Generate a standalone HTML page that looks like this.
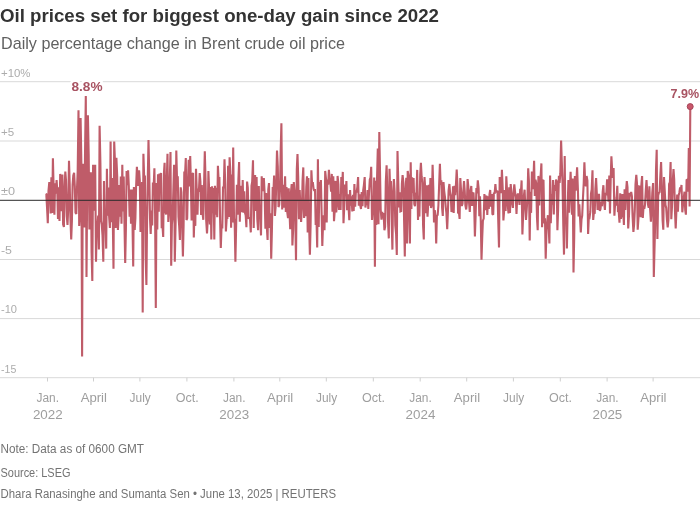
<!DOCTYPE html>
<html lang="en"><head><meta charset="utf-8"><title>Oil prices set for biggest one-day gain since 2022</title>
<style>
html,body{margin:0;padding:0;background:#fff;}
body{width:700px;height:519px;overflow:hidden;font-family:"Liberation Sans",sans-serif;}
svg{display:block;}
text{font-family:"Liberation Sans",sans-serif;}
.t{font-size:17.6px;font-weight:bold;fill:#333;}
.st{font-size:16.4px;fill:#606060;}
.yl{font-size:11.5px;fill:#acacac;}
.xl{font-size:12px;fill:#9e9e9e;text-anchor:middle;}
.ft{font-size:12px;fill:#737373;}
.an{font-size:13px;font-weight:bold;fill:#a85362;stroke:#fff;stroke-width:5px;paint-order:stroke;stroke-linejoin:round;}
</style></head><body>
<svg width="700" height="519" viewBox="0 0 700 519">
<rect width="700" height="519" fill="#fff"/>
<text class="t" x="0" y="21.7" textLength="439" lengthAdjust="spacingAndGlyphs">Oil prices set for biggest one-day gain since 2022</text>
<text class="st" x="1" y="49.3" textLength="344" lengthAdjust="spacingAndGlyphs">Daily percentage change in Brent crude oil price</text>
<line x1="0" x2="700" y1="81.7" y2="81.7" stroke="#d9d9d9" stroke-width="1"/>
<line x1="0" x2="700" y1="141.0" y2="141.0" stroke="#d9d9d9" stroke-width="1"/>
<line x1="0" x2="700" y1="259.5" y2="259.5" stroke="#d9d9d9" stroke-width="1"/>
<line x1="0" x2="700" y1="318.6" y2="318.6" stroke="#d9d9d9" stroke-width="1"/>
<line x1="0" x2="700" y1="377.7" y2="377.7" stroke="#d9d9d9" stroke-width="1"/>
<line x1="47.5" x2="47.5" y1="377.7" y2="381.5" stroke="#cfcfcf" stroke-width="1"/>
<line x1="93.5" x2="93.5" y1="377.7" y2="381.5" stroke="#cfcfcf" stroke-width="1"/>
<line x1="139.9" x2="139.9" y1="377.7" y2="381.5" stroke="#cfcfcf" stroke-width="1"/>
<line x1="186.9" x2="186.9" y1="377.7" y2="381.5" stroke="#cfcfcf" stroke-width="1"/>
<line x1="233.9" x2="233.9" y1="377.7" y2="381.5" stroke="#cfcfcf" stroke-width="1"/>
<line x1="279.8" x2="279.8" y1="377.7" y2="381.5" stroke="#cfcfcf" stroke-width="1"/>
<line x1="326.3" x2="326.3" y1="377.7" y2="381.5" stroke="#cfcfcf" stroke-width="1"/>
<line x1="373.3" x2="373.3" y1="377.7" y2="381.5" stroke="#cfcfcf" stroke-width="1"/>
<line x1="420.2" x2="420.2" y1="377.7" y2="381.5" stroke="#cfcfcf" stroke-width="1"/>
<line x1="466.7" x2="466.7" y1="377.7" y2="381.5" stroke="#cfcfcf" stroke-width="1"/>
<line x1="513.4" x2="513.4" y1="377.7" y2="381.5" stroke="#cfcfcf" stroke-width="1"/>
<line x1="560.3" x2="560.3" y1="377.7" y2="381.5" stroke="#cfcfcf" stroke-width="1"/>
<line x1="607.1" x2="607.1" y1="377.7" y2="381.5" stroke="#cfcfcf" stroke-width="1"/>
<line x1="653.1" x2="653.1" y1="377.7" y2="381.5" stroke="#cfcfcf" stroke-width="1"/>
<text class="yl" x="1" y="76.5" textLength="29.5" lengthAdjust="spacingAndGlyphs">+10%</text>
<text class="yl" x="1" y="135.8" textLength="13.2" lengthAdjust="spacingAndGlyphs">+5</text>
<text class="yl" x="1" y="195.1" textLength="14" lengthAdjust="spacingAndGlyphs">±0</text>
<text class="yl" x="1" y="254.3" textLength="11" lengthAdjust="spacingAndGlyphs">-5</text>
<text class="yl" x="1" y="313.4" textLength="16" lengthAdjust="spacingAndGlyphs">-10</text>
<text class="yl" x="1" y="372.5" textLength="15.3" lengthAdjust="spacingAndGlyphs">-15</text>
<text class="xl" x="47.8" y="402" textLength="22.5" lengthAdjust="spacingAndGlyphs">Jan.</text>
<text class="xl" x="47.8" y="418.7" textLength="29.8" lengthAdjust="spacingAndGlyphs">2022</text>
<text class="xl" x="93.8" y="402" textLength="26.3" lengthAdjust="spacingAndGlyphs">April</text>
<text class="xl" x="140.2" y="402" textLength="21.2" lengthAdjust="spacingAndGlyphs">July</text>
<text class="xl" x="187.2" y="402" textLength="23" lengthAdjust="spacingAndGlyphs">Oct.</text>
<text class="xl" x="234.2" y="402" textLength="22.5" lengthAdjust="spacingAndGlyphs">Jan.</text>
<text class="xl" x="234.2" y="418.7" textLength="29.8" lengthAdjust="spacingAndGlyphs">2023</text>
<text class="xl" x="280.1" y="402" textLength="26.3" lengthAdjust="spacingAndGlyphs">April</text>
<text class="xl" x="326.6" y="402" textLength="21.2" lengthAdjust="spacingAndGlyphs">July</text>
<text class="xl" x="373.6" y="402" textLength="23" lengthAdjust="spacingAndGlyphs">Oct.</text>
<text class="xl" x="420.5" y="402" textLength="22.5" lengthAdjust="spacingAndGlyphs">Jan.</text>
<text class="xl" x="420.5" y="418.7" textLength="29.8" lengthAdjust="spacingAndGlyphs">2024</text>
<text class="xl" x="467.0" y="402" textLength="26.3" lengthAdjust="spacingAndGlyphs">April</text>
<text class="xl" x="513.7" y="402" textLength="21.2" lengthAdjust="spacingAndGlyphs">July</text>
<text class="xl" x="560.6" y="402" textLength="23" lengthAdjust="spacingAndGlyphs">Oct.</text>
<text class="xl" x="607.4" y="402" textLength="22.5" lengthAdjust="spacingAndGlyphs">Jan.</text>
<text class="xl" x="607.4" y="418.7" textLength="29.8" lengthAdjust="spacingAndGlyphs">2025</text>
<text class="xl" x="653.4" y="402" textLength="26.3" lengthAdjust="spacingAndGlyphs">April</text>
<polyline fill="none" stroke="#bf5c69" stroke-width="2.1" stroke-linejoin="miter" stroke-miterlimit="2" points="45.6,194.0 46.3,194.3 47.1,208.6 47.8,223.3 48.5,190.9 49.3,182.0 50.0,194.4 50.7,213.4 51.4,177.2 52.2,213.0 52.9,158.3 53.6,187.1 54.4,214.7 55.1,183.3 55.8,193.6 56.6,180.0 57.3,190.8 58.0,219.0 58.7,187.2 59.5,221.0 60.2,173.9 60.9,190.0 61.7,211.1 62.4,174.5 63.1,224.4 63.9,227.0 64.6,187.8 65.3,171.5 66.0,180.4 66.8,216.2 67.5,225.0 68.2,209.1 69.0,160.7 69.7,183.5 70.4,217.5 71.2,239.5 71.9,221.2 72.6,184.8 73.3,175.4 74.1,172.9 74.8,186.1 75.5,212.6 76.3,214.0 77.0,188.6 77.7,171.1 78.5,110.2 79.2,226.0 79.9,215.0 80.6,118.0 81.4,165.3 82.1,356.5 82.8,163.8 83.6,187.3 84.3,227.6 85.0,156.5 85.8,96.0 86.5,277.0 87.2,185.0 87.9,115.2 88.7,155.2 89.4,229.4 90.1,211.2 90.9,172.3 91.6,252.8 92.3,281.0 93.1,164.8 93.8,210.8 94.5,175.7 95.2,164.8 96.0,261.7 96.7,229.0 97.4,226.9 98.2,215.6 98.9,249.6 99.6,125.7 100.4,163.3 101.1,221.0 101.8,224.9 102.5,235.1 103.3,261.7 104.0,180.9 104.7,226.1 105.5,223.4 106.2,248.6 106.9,168.8 107.7,215.7 108.4,187.6 109.1,216.3 109.9,228.0 110.6,141.5 111.3,222.2 112.0,178.1 112.8,219.8 113.5,268.8 114.2,141.5 115.0,162.9 115.7,228.0 116.4,157.7 117.2,176.2 117.9,230.0 118.6,217.5 119.3,185.0 120.1,216.8 120.8,176.6 121.5,223.8 122.3,164.8 123.0,211.5 123.7,176.5 124.5,225.2 125.2,263.0 125.9,228.8 126.6,170.9 127.4,185.3 128.1,170.3 128.8,185.8 129.6,216.6 130.3,189.4 131.0,223.8 131.8,189.5 132.5,223.2 133.2,266.4 133.9,187.0 134.7,230.0 135.4,218.3 136.1,186.9 136.9,166.8 137.6,178.6 138.3,185.9 139.1,170.3 139.8,180.7 140.5,232.0 141.2,213.6 142.0,182.1 142.7,312.4 143.4,153.7 144.2,178.6 144.9,175.5 145.6,255.7 146.4,285.0 147.1,217.2 147.8,177.9 148.5,139.9 149.3,176.5 150.0,218.4 150.7,234.0 151.5,210.5 152.2,225.4 152.9,182.4 153.7,185.9 154.4,168.2 155.1,214.1 155.8,308.0 156.6,182.9 157.3,229.6 158.0,174.3 158.8,211.8 159.5,173.4 160.2,185.3 161.0,172.9 161.7,228.3 162.4,224.5 163.2,237.0 163.9,174.0 164.6,162.8 165.3,211.3 166.1,214.4 166.8,178.9 167.5,153.7 168.3,222.0 169.0,212.3 169.7,184.5 170.5,152.0 171.2,265.7 171.9,224.2 172.6,217.4 173.4,188.9 174.1,164.8 174.8,261.7 175.6,222.4 176.3,150.6 177.0,178.2 177.8,177.8 178.5,217.0 179.2,226.1 179.9,240.0 180.7,187.3 181.4,192.0 182.1,222.9 182.9,256.6 183.6,225.4 184.3,171.4 185.1,173.2 185.8,158.0 186.5,220.1 187.2,218.3 188.0,180.3 188.7,159.7 189.4,186.5 190.2,156.0 190.9,182.3 191.6,220.4 192.4,174.1 193.1,173.0 193.8,237.4 194.5,211.8 195.3,225.9 196.0,168.8 196.7,189.0 197.5,214.8 198.2,188.6 198.9,191.8 199.7,173.0 200.4,181.4 201.1,215.0 201.8,185.0 202.6,213.7 203.3,219.8 204.0,188.2 204.8,151.2 205.5,178.4 206.2,220.5 207.0,233.4 207.7,220.5 208.4,171.0 209.1,188.9 209.9,224.6 210.6,186.9 211.3,239.4 212.1,186.3 212.8,213.2 213.5,188.0 214.3,239.4 215.0,185.7 215.7,214.7 216.4,187.9 217.2,217.2 217.9,165.8 218.6,179.9 219.4,177.1 220.1,220.1 220.8,248.0 221.6,224.5 222.3,228.6 223.0,187.5 223.8,187.5 224.5,159.3 225.2,183.4 225.9,231.4 226.7,218.2 227.4,218.1 228.1,165.8 228.9,217.0 229.6,157.3 230.3,171.3 231.1,227.7 231.8,174.6 232.5,222.4 233.2,147.6 234.0,218.0 234.7,224.1 235.4,261.7 236.2,223.6 236.9,184.8 237.6,214.8 238.4,179.2 239.1,162.0 239.8,221.7 240.5,185.8 241.3,206.2 242.0,212.0 242.7,180.0 243.5,212.8 244.2,191.3 244.9,212.4 245.7,215.5 246.4,227.3 247.1,181.6 247.8,187.9 248.6,218.7 249.3,217.9 250.0,218.4 250.8,232.4 251.5,185.9 252.2,181.6 253.0,160.3 253.7,227.9 254.4,190.9 255.1,175.0 255.9,210.9 256.6,176.9 257.3,218.9 258.1,230.3 258.8,186.0 259.5,216.0 260.3,216.5 261.0,235.4 261.7,176.3 262.4,191.1 263.2,179.0 263.9,179.0 264.6,192.8 265.4,228.8 266.1,193.1 266.8,226.6 267.6,240.0 268.3,189.4 269.0,183.0 269.7,228.0 270.5,213.2 271.2,258.7 271.9,230.6 272.7,186.9 273.4,192.7 274.1,175.5 274.9,216.0 275.6,207.1 276.3,180.5 277.0,150.6 277.8,166.8 278.5,207.1 279.2,205.1 280.0,190.2 280.7,150.4 281.4,123.3 282.2,209.4 282.9,184.9 283.6,207.6 284.4,190.7 285.1,176.3 285.8,212.0 286.5,187.0 287.3,212.4 288.0,218.0 288.7,188.2 289.5,211.8 290.2,229.3 290.9,192.7 291.7,184.0 292.4,245.5 293.1,230.3 293.8,182.0 294.6,191.5 295.3,217.8 296.0,260.3 296.8,169.4 297.5,154.0 298.2,176.6 299.0,219.3 299.7,190.0 300.4,207.0 301.1,222.0 301.9,208.4 302.6,179.9 303.3,167.4 304.1,218.0 304.8,209.0 305.5,216.1 306.3,186.7 307.0,176.3 307.7,232.4 308.4,177.9 309.2,227.8 309.9,254.6 310.6,225.2 311.4,170.3 312.1,184.6 312.8,182.1 313.6,188.8 314.3,190.9 315.0,189.0 315.7,225.0 316.5,219.7 317.2,247.5 317.9,159.3 318.7,227.1 319.4,182.0 320.1,189.6 320.9,180.0 321.6,211.9 322.3,246.0 323.0,225.2 323.8,215.4 324.5,230.3 325.2,170.9 326.0,178.9 326.7,222.4 327.4,179.6 328.2,184.7 328.9,169.9 329.6,179.7 330.3,182.4 331.1,191.6 331.8,173.9 332.5,211.8 333.3,176.2 334.0,221.2 334.7,211.2 335.5,180.9 336.2,212.4 336.9,206.3 337.6,175.9 338.4,184.2 339.1,210.0 339.8,194.1 340.6,210.0 341.3,177.0 342.0,190.4 342.8,171.9 343.5,223.3 344.2,207.9 345.0,184.6 345.7,193.9 346.4,181.0 347.1,210.3 347.9,194.2 348.6,207.8 349.3,220.2 350.1,190.0 350.8,205.6 351.5,196.4 352.3,211.4 353.0,194.7 353.7,211.0 354.4,184.0 355.2,206.6 355.9,190.4 356.6,192.3 357.4,186.6 358.1,177.0 358.8,205.8 359.6,194.4 360.3,205.6 361.0,209.0 361.7,192.1 362.5,206.1 363.2,190.3 363.9,185.1 364.7,177.0 365.4,207.6 366.1,202.1 366.9,204.9 367.6,190.1 368.3,209.0 369.0,193.4 369.8,179.5 370.5,177.5 371.2,166.8 372.0,220.0 372.7,210.0 373.4,211.9 374.2,177.6 374.9,266.8 375.6,180.8 376.3,224.9 377.1,175.9 377.8,148.6 378.5,224.3 379.3,132.0 380.0,170.5 380.7,209.6 381.5,219.6 382.2,211.8 382.9,218.2 383.6,213.1 384.4,230.3 385.1,226.8 385.8,182.1 386.6,165.4 387.3,189.6 388.0,221.2 388.8,238.4 389.5,168.8 390.2,190.0 390.9,181.0 391.7,221.2 392.4,249.6 393.1,192.9 393.9,179.0 394.6,191.6 395.3,225.1 396.1,233.8 396.8,255.0 397.5,151.0 398.3,183.0 399.0,207.5 399.7,192.3 400.4,211.4 401.2,211.0 401.9,183.5 402.6,175.0 403.4,182.5 404.1,220.6 404.8,256.6 405.6,188.8 406.3,177.8 407.0,243.5 407.7,170.9 408.5,175.7 409.2,214.3 409.9,243.5 410.7,162.2 411.4,209.1 412.1,177.3 412.9,193.0 413.6,178.0 414.3,204.0 415.0,206.2 415.8,194.5 416.5,192.0 417.2,169.9 418.0,220.0 418.7,195.7 419.4,216.6 420.2,174.9 420.9,162.8 421.6,176.2 422.3,182.6 423.1,225.6 423.8,239.5 424.5,177.0 425.3,190.1 426.0,213.2 426.7,185.4 427.5,216.7 428.2,204.8 428.9,184.7 429.6,205.6 430.4,178.0 431.1,208.0 431.8,204.8 432.6,164.8 433.3,187.8 434.0,222.4 434.8,210.2 435.5,217.4 436.2,243.5 436.9,216.0 437.7,214.9 438.4,205.5 439.1,186.4 439.9,163.8 440.6,184.9 441.3,180.2 442.1,208.0 442.8,216.0 443.5,182.0 444.2,191.1 445.0,197.3 445.7,206.8 446.4,213.0 447.2,229.3 447.9,211.9 448.6,190.6 449.4,184.0 450.1,192.8 450.8,196.1 451.5,212.0 452.3,206.0 453.0,186.4 453.7,213.0 454.5,185.8 455.2,195.1 455.9,185.2 456.7,169.5 457.4,184.3 458.1,213.5 458.9,212.0 459.6,219.0 460.3,178.0 461.0,189.2 461.8,205.9 462.5,203.9 463.2,193.4 464.0,181.0 464.7,190.6 465.4,205.4 466.2,209.5 466.9,202.7 467.6,179.0 468.3,186.6 469.1,203.3 469.8,212.0 470.5,191.2 471.3,186.0 472.0,205.9 472.7,194.0 473.5,192.5 474.2,206.5 474.9,236.4 475.6,216.1 476.4,188.0 477.1,193.3 477.8,180.4 478.6,188.4 479.3,216.2 480.0,196.2 480.8,222.0 481.5,259.7 482.2,238.1 482.9,220.7 483.7,218.6 484.4,194.0 485.1,210.3 485.9,197.2 486.6,195.8 487.3,215.0 488.1,196.4 488.8,209.0 489.5,194.4 490.2,190.0 491.0,206.8 491.7,194.1 492.4,214.0 493.2,214.6 493.9,192.5 494.6,193.8 495.4,184.0 496.1,192.4 496.8,191.4 497.5,190.7 498.3,222.9 499.0,247.5 499.7,177.0 500.5,184.3 501.2,193.2 501.9,169.9 502.7,188.2 503.4,220.5 504.1,211.3 504.8,190.0 505.6,210.9 506.3,176.3 507.0,189.7 507.8,205.8 508.5,213.4 509.2,187.3 510.0,213.0 510.7,184.0 511.4,192.9 512.1,202.9 512.9,207.9 513.6,192.3 514.3,184.4 515.1,192.3 515.8,197.2 516.5,214.0 517.3,195.8 518.0,193.7 518.7,195.6 519.5,204.9 520.2,188.7 520.9,192.2 521.6,180.4 522.4,234.4 523.1,216.0 523.8,196.5 524.6,189.7 525.3,206.4 526.0,220.0 526.8,208.0 527.5,197.6 528.2,168.2 528.9,181.0 529.7,240.5 530.4,191.8 531.1,212.9 531.9,171.5 532.6,189.1 533.3,183.3 534.1,160.7 534.8,196.0 535.5,179.7 536.2,183.1 537.0,218.0 537.7,230.3 538.4,175.9 539.2,205.4 539.9,179.8 540.6,176.9 541.4,163.4 542.1,227.3 542.8,180.5 543.5,180.0 544.3,223.4 545.0,218.3 545.7,258.7 546.5,230.1 547.2,222.2 547.9,215.2 548.7,227.7 549.4,243.5 550.1,175.5 550.8,223.2 551.6,194.1 552.3,204.6 553.0,180.0 553.8,214.4 554.5,185.0 555.2,191.0 556.0,179.6 556.7,181.3 557.4,230.3 558.1,209.7 558.9,175.7 559.6,183.0 560.3,173.7 561.1,140.5 561.8,162.4 562.5,181.9 563.3,225.4 564.0,254.6 564.7,156.0 565.4,223.5 566.2,217.4 566.9,248.6 567.6,211.5 568.4,180.0 569.1,212.8 569.8,191.7 570.6,171.9 571.3,191.4 572.0,214.6 572.7,178.4 573.5,272.4 574.2,237.4 574.9,176.0 575.7,190.7 576.4,180.7 577.1,167.4 577.9,189.5 578.6,216.5 579.3,204.2 580.1,219.3 580.8,232.4 581.5,219.4 582.2,215.6 583.0,197.2 583.7,183.6 584.4,162.2 585.2,183.0 585.9,186.4 586.6,176.0 587.4,180.5 588.1,234.0 588.8,217.4 589.5,217.8 590.3,212.0 591.0,193.5 591.7,189.5 592.5,170.3 593.2,220.0 593.9,212.1 594.7,213.7 595.4,188.5 596.1,178.0 596.8,193.1 597.6,209.9 598.3,204.0 599.0,193.7 599.8,211.0 600.5,209.0 601.2,201.7 602.0,206.3 602.7,191.7 603.4,185.2 604.1,201.6 604.9,209.9 605.6,192.7 606.3,195.2 607.1,179.4 607.8,189.7 608.5,201.6 609.3,175.6 610.0,213.5 610.7,178.9 611.4,156.3 612.2,171.4 612.9,177.9 613.6,167.9 614.4,215.8 615.1,203.7 615.8,205.4 616.6,197.2 617.3,185.8 618.0,212.0 618.7,211.1 619.5,222.7 620.2,193.3 620.9,218.7 621.7,215.2 622.4,194.0 623.1,208.4 623.9,225.0 624.6,189.2 625.3,210.0 626.0,192.4 626.8,181.0 627.5,187.2 628.2,228.5 629.0,215.3 629.7,192.8 630.4,196.4 631.2,192.0 631.9,196.0 632.6,216.5 633.4,232.0 634.1,224.6 634.8,209.9 635.5,184.3 636.3,174.8 637.0,183.6 637.7,229.7 638.5,217.7 639.2,186.5 639.9,186.7 640.7,217.3 641.4,184.3 642.1,176.0 642.8,218.0 643.6,205.8 644.3,208.7 645.0,204.8 645.8,190.2 646.5,180.0 647.2,191.8 648.0,204.7 648.7,207.7 649.4,186.4 650.1,209.0 650.9,221.6 651.6,209.5 652.3,192.7 653.1,183.0 653.8,277.0 654.5,249.1 655.3,218.7 656.0,170.0 656.7,149.8 657.4,239.0 658.2,195.4 658.9,192.8 659.6,192.0 660.4,174.6 661.1,162.0 661.8,186.8 662.6,220.2 663.3,229.7 664.0,177.0 664.7,189.8 665.5,205.0 666.2,208.0 666.9,219.3 667.7,227.4 668.4,220.1 669.1,184.0 669.9,182.3 670.6,162.0 671.3,219.3 672.0,206.4 672.8,180.5 673.5,169.0 674.2,179.2 675.0,211.8 675.7,228.5 676.4,210.9 677.2,194.6 677.9,211.8 678.6,195.8 679.3,192.7 680.1,187.5 680.8,189.9 681.5,185.0 682.3,212.3 683.0,204.9 683.7,198.1 684.5,191.7 685.2,209.9 685.9,214.7 686.6,179.4 687.4,180.0 688.1,191.6 688.8,148.0 689.6,206.6 690.3,106.7"/>
<line x1="0" x2="700" y1="200.3" y2="200.3" stroke="#2b2b2b" stroke-width="1"/>
<circle cx="690.2" cy="106.6" r="3" fill="#c9576b" stroke="#a64558" stroke-width="1"/>
<text class="an" x="71.5" y="90.8" textLength="31" lengthAdjust="spacingAndGlyphs">8.8%</text>
<text class="an" x="670.5" y="97.6" textLength="28.5" lengthAdjust="spacingAndGlyphs">7.9%</text>
<text class="ft" x="0.5" y="453" textLength="143.5" lengthAdjust="spacingAndGlyphs">Note: Data as of 0600 GMT</text>
<text class="ft" x="0.5" y="477" textLength="70" lengthAdjust="spacingAndGlyphs">Source: LSEG</text>
<text class="ft" x="0.5" y="497.5" textLength="335.5" lengthAdjust="spacingAndGlyphs">Dhara Ranasinghe and Sumanta Sen • June 13, 2025 | REUTERS</text>
</svg></body></html>
